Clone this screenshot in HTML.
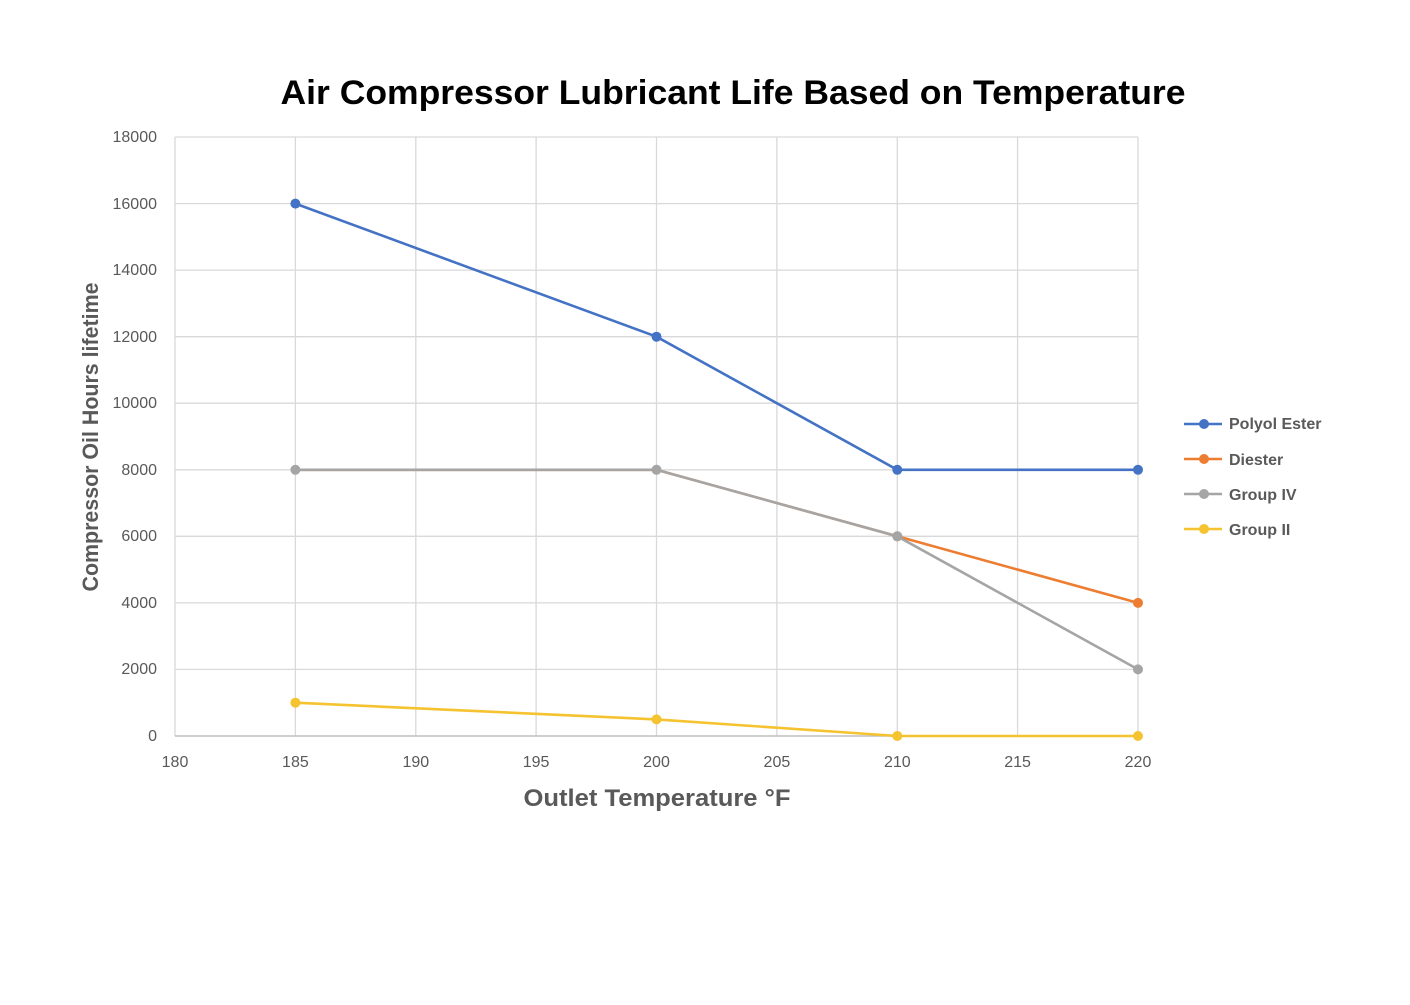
<!DOCTYPE html>
<html><head><meta charset="utf-8"><style>
html,body{margin:0;padding:0;background:#fff;}
svg{display:block;}
text{font-family:"Liberation Sans",sans-serif;}
</style></head><body>
<svg width="1410" height="1005" viewBox="0 0 1410 1005" xmlns="http://www.w3.org/2000/svg">
<rect width="1410" height="1005" fill="#fff"/>
<text x="733" y="104" text-anchor="middle" font-size="34" font-weight="bold" fill="#000" textLength="905" lengthAdjust="spacingAndGlyphs">Air Compressor Lubricant Life Based on Temperature</text>
<g stroke="#d9d9d9" stroke-width="1.3">
<line x1="175" y1="137" x2="1138" y2="137"/>
<line x1="175" y1="203.6" x2="1138" y2="203.6"/>
<line x1="175" y1="270.1" x2="1138" y2="270.1"/>
<line x1="175" y1="336.7" x2="1138" y2="336.7"/>
<line x1="175" y1="403.2" x2="1138" y2="403.2"/>
<line x1="175" y1="469.8" x2="1138" y2="469.8"/>
<line x1="175" y1="536.3" x2="1138" y2="536.3"/>
<line x1="175" y1="602.9" x2="1138" y2="602.9"/>
<line x1="175" y1="669.4" x2="1138" y2="669.4"/>
<line x1="175" y1="137" x2="175" y2="736"/>
<line x1="295.4" y1="137" x2="295.4" y2="736"/>
<line x1="415.8" y1="137" x2="415.8" y2="736"/>
<line x1="536.1" y1="137" x2="536.1" y2="736"/>
<line x1="656.5" y1="137" x2="656.5" y2="736"/>
<line x1="776.9" y1="137" x2="776.9" y2="736"/>
<line x1="897.3" y1="137" x2="897.3" y2="736"/>
<line x1="1017.6" y1="137" x2="1017.6" y2="736"/>
<line x1="1138" y1="137" x2="1138" y2="736"/>
</g>
<line x1="175" y1="736" x2="1138" y2="736" stroke="#bfbfbf" stroke-width="1.5"/>
<g font-size="16" fill="#595959" text-anchor="end">
<text x="157" y="142">18000</text><text x="157" y="209">16000</text><text x="157" y="275">14000</text>
<text x="157" y="342">12000</text><text x="157" y="408">10000</text><text x="157" y="475">8000</text>
<text x="157" y="541">6000</text><text x="157" y="608">4000</text><text x="157" y="674">2000</text>
<text x="157" y="741">0</text>
</g>
<g font-size="16" fill="#595959" text-anchor="middle">
<text x="175" y="767">180</text><text x="295.4" y="767">185</text><text x="415.8" y="767">190</text>
<text x="536.1" y="767">195</text><text x="656.5" y="767">200</text><text x="776.9" y="767">205</text>
<text x="897.3" y="767">210</text><text x="1017.6" y="767">215</text><text x="1138" y="767">220</text>
</g>
<text x="657" y="806" text-anchor="middle" font-size="24" font-weight="bold" fill="#595959" textLength="267" lengthAdjust="spacingAndGlyphs">Outlet Temperature °F</text>
<text transform="translate(98,437) rotate(-90)" text-anchor="middle" font-size="22" font-weight="bold" fill="#595959" textLength="309" lengthAdjust="spacingAndGlyphs">Compressor Oil Hours lifetime</text>
<g stroke-width="2.6" fill="none">
<polyline stroke="#4472C4" points="295.4,203.6 656.5,336.7 897.3,469.8 1138,469.8"/>
<polyline stroke="#ED7D31" points="295.4,469.8 656.5,469.8 897.3,536.3 1138,602.9"/>
<polyline stroke="#A5A5A5" points="295.4,469.8 656.5,469.8 897.3,536.3 1138,669.4"/>
<polyline stroke="#F5C330" points="295.4,702.7 656.5,719.4 897.3,736 1138,736"/>
</g>
<g fill="#4472C4"><circle cx="295.4" cy="203.6" r="5"/><circle cx="656.5" cy="336.7" r="5"/><circle cx="897.3" cy="469.8" r="5"/><circle cx="1138" cy="469.8" r="5"/></g>
<g fill="#ED7D31"><circle cx="1138" cy="602.9" r="5"/><circle cx="897.3" cy="536.3" r="5"/></g>
<g fill="#A5A5A5"><circle cx="295.4" cy="469.8" r="5"/><circle cx="656.5" cy="469.8" r="5"/><circle cx="897.3" cy="536.3" r="5"/><circle cx="1138" cy="669.4" r="5"/></g>
<g fill="#F5C330"><circle cx="295.4" cy="702.7" r="5"/><circle cx="656.5" cy="719.4" r="5"/><circle cx="897.3" cy="736" r="5"/><circle cx="1138" cy="736" r="5"/></g>
<g stroke-width="2.6">
<line x1="1184" y1="424" x2="1222" y2="424" stroke="#4472C4"/>
<line x1="1184" y1="459" x2="1222" y2="459" stroke="#ED7D31"/>
<line x1="1184" y1="494" x2="1222" y2="494" stroke="#A5A5A5"/>
<line x1="1184" y1="529" x2="1222" y2="529" stroke="#F5C330"/>
</g>
<circle cx="1204" cy="424" r="5" fill="#4472C4"/><circle cx="1204" cy="459" r="5" fill="#ED7D31"/>
<circle cx="1204" cy="494" r="5" fill="#A5A5A5"/><circle cx="1204" cy="529" r="5" fill="#F5C330"/>
<g font-size="16" font-weight="bold" fill="#595959">
<text x="1229" y="429">Polyol Ester</text><text x="1229" y="465">Diester</text>
<text x="1229" y="500">Group IV</text><text x="1229" y="535">Group II</text>
</g>
</svg>
</body></html>
